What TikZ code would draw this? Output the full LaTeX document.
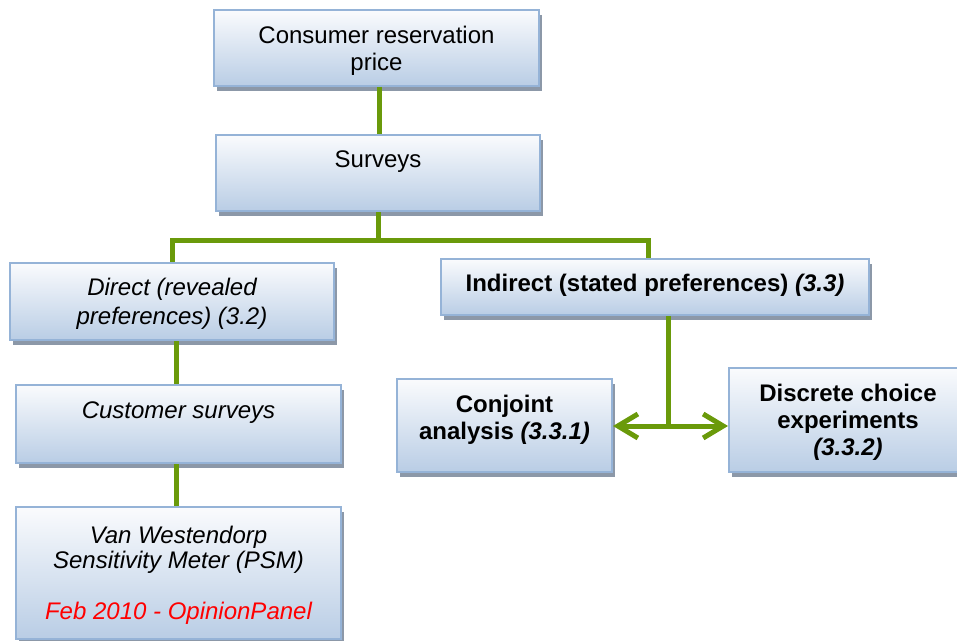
\documentclass[tikz,border=0pt]{standalone}
\usepackage{fontspec}
\setmainfont{Liberation Sans}
\usetikzlibrary{shadows,arrows.meta,calc}

\definecolor{boxtop}{RGB}{250,251,253}
\definecolor{boxbottom}{RGB}{185,205,229}
\definecolor{boxedge}{RGB}{149,179,215}
\definecolor{boxshadow}{RGB}{140,152,168}
\definecolor{linkgreen}{RGB}{106,154,10}
\definecolor{notered}{RGB}{255,0,0}

\tikzset{
  chartbox/.style={
    rectangle, draw=boxedge, line width=1pt,
    top color=boxtop, bottom color=boxbottom,
    drop shadow={shadow xshift=1.5pt, shadow yshift=-2.5pt,
                 fill=boxshadow, opacity=1},
    align=center, inner sep=2pt,
    font=\fontsize{12pt}{13.5pt}\selectfont
  },
  link/.style={draw=linkgreen, line width=2.5pt, line join=miter},
  twoway/.style={link, {Straight Barb[length=10pt,width=12pt]}-{Straight Barb[length=10pt,width=12pt]}}
}

\begin{document}
\begin{tikzpicture}[x=0.5pt, y=-0.5pt]
  \useasboundingbox (0,0) rectangle (957,641);

  % top of the tree
  \node[chartbox, minimum width=162.5pt, minimum height=38pt, text depth=-1pt] (crp) at (376.5,48)
    {Consumer reservation\\price};
  \node[chartbox, minimum width=162pt, minimum height=38pt] (surveys) at (378,173)
    {Surveys\\\mbox{}};

  % direct branch
  \node[chartbox, minimum width=162pt, minimum height=38.5pt, text depth=-1.5pt,
        font=\fontsize{12pt}{14.5pt}\selectfont\itshape] (direct) at (172,301.5)
    {Direct (revealed\\preferences) (3.2)};
  \node[chartbox, minimum width=162.5pt, minimum height=39pt, font=\fontsize{12pt}{13.5pt}\selectfont\itshape]
    (custsurv) at (178.5,424)
    {Customer surveys\\\mbox{}};
  \node[chartbox, minimum width=162.5pt, minimum height=66pt, text depth=-2.5pt,
        font=\fontsize{12pt}{12.75pt}\selectfont\itshape] (vanw) at (178.5,573)
    {Van Westendorp\\Sensitivity Meter (PSM)\\[12.75pt]\textcolor{notered}{Feb 2010 - OpinionPanel}};

  % indirect branch
  \node[chartbox, minimum width=214pt, minimum height=28pt, text depth=4.5pt,
        font=\fontsize{12pt}{13.5pt}\selectfont\bfseries]
    (indirect) at (655,287)
    {Indirect (stated preferences) \textit{(3.3)}};
  \node[chartbox, minimum width=107.5pt, minimum height=46.5pt, font=\fontsize{12pt}{13.5pt}\selectfont\bfseries]
    (conjoint) at (504.5,425.5)
    {Conjoint\\analysis \textit{(3.3.1)}\\[-5.5pt]\mbox{}};
  \node[chartbox, minimum width=119pt, minimum height=52pt, text depth=0.5pt,
        font=\fontsize{12pt}{13.5pt}\selectfont\bfseries]
    (discrete) at (848,420)
    {Discrete choice\\experiments\\\textit{(3.3.2)}};

  % junction points of the connectors
  \coordinate (split) at ($(surveys.south)+(0,29)$);
  \coordinate (fork) at ($(indirect.south)+(13,110)$);

  % connectors
  \draw[link] ([xshift=1.25pt]crp.south) -- ([xshift=1.25pt]crp.south |- surveys.north);
  \draw[link] (surveys.south) -- (split);
  \draw[link] (direct.north) |- (split) -| ([xshift=-3.5pt]indirect.north);
  \draw[link] ([xshift=2pt]direct.south) -- ([xshift=2pt]direct.south |- custsurv.north);
  \draw[link] ([xshift=-1pt]custsurv.south) -- ([xshift=-1pt]custsurv.south |- vanw.north);
  \draw[link] ([xshift=6.5pt]indirect.south) -- (fork);
  \draw[twoway] (fork -| conjoint.east) -- (fork -| discrete.west);
\end{tikzpicture}
\end{document}
